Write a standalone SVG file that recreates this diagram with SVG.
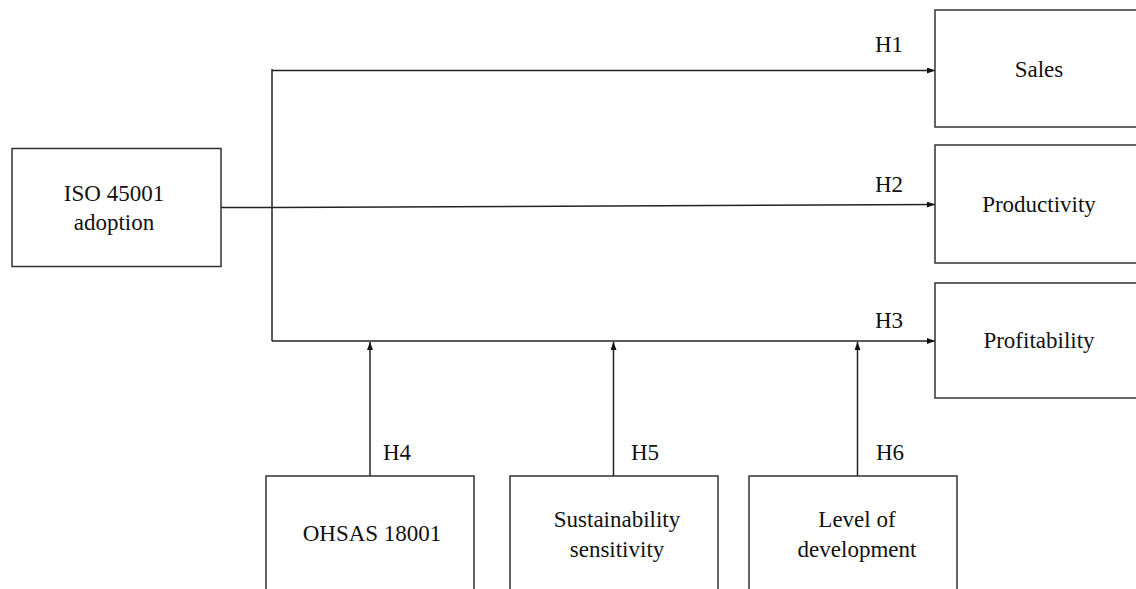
<svg xmlns="http://www.w3.org/2000/svg" width="1136" height="589" viewBox="0 0 1136 589">
<style>
.box{fill:#fff;stroke:#333;stroke-width:1.5}
.ln{fill:none;stroke:#222;stroke-width:1.5}
text{font-size:23px;fill:#111}
.c{text-anchor:middle}
</style>
<defs>
<marker id="ah" markerWidth="8" markerHeight="6" refX="8" refY="3" orient="auto" markerUnits="userSpaceOnUse">
<path d="M0,0 L8,3 L0,6 Z" fill="#111"/>
</marker>
</defs>
<rect width="1136" height="589" fill="#fff"/>
<g font-family="'Liberation Serif', Tinos, 'DejaVu Serif', 'Times New Roman', serif">
<g id="connectors">
<path class="ln" d="M221,207.5 H272" stroke-width="2"/>
<path class="ln" d="M272,69 V341"/>
<path class="ln" d="M272,70.5 H935" marker-end="url(#ah)"/>
<path class="ln" d="M272,207.5 L935,204.5" marker-end="url(#ah)"/>
<path class="ln" d="M272,341 H935" marker-end="url(#ah)"/>
<path class="ln" d="M370,476 V342" marker-end="url(#ah)"/>
<path class="ln" d="M613.5,476 V342" marker-end="url(#ah)"/>
<path class="ln" d="M857.5,476 V342" marker-end="url(#ah)"/>
<text x="875" y="52">H1</text>
<text x="875" y="192">H2</text>
<text x="875" y="328">H3</text>
<text x="383" y="460">H4</text>
<text x="631" y="460">H5</text>
<text x="876" y="460">H6</text>
</g>
<g id="iso">
<rect class="box" x="12" y="148.5" width="209" height="118"/>
<text class="c" x="114" y="201">ISO 45001</text>
<text class="c" x="114" y="230">adoption</text>
</g>
<g id="sales">
<rect class="box" x="935" y="10" width="210" height="117"/>
<text class="c" x="1039" y="77">Sales</text>
</g>
<g id="productivity">
<rect class="box" x="935" y="145" width="210" height="118"/>
<text class="c" x="1039" y="212">Productivity</text>
</g>
<g id="profitability">
<rect class="box" x="935" y="283" width="210" height="115"/>
<text class="c" x="1039" y="348">Profitability</text>
</g>
<g id="ohsas">
<rect class="box" x="266" y="476" width="208" height="130"/>
<text class="c" x="372" y="541">OHSAS 18001</text>
</g>
<g id="sustainability">
<rect class="box" x="510" y="476" width="208" height="130"/>
<text class="c" x="617" y="527">Sustainability</text>
<text class="c" x="617" y="557">sensitivity</text>
</g>
<g id="level">
<rect class="box" x="749" y="476" width="208" height="130"/>
<text class="c" x="857" y="527">Level of</text>
<text class="c" x="857" y="557">development</text>
</g>
</g>
</svg>
